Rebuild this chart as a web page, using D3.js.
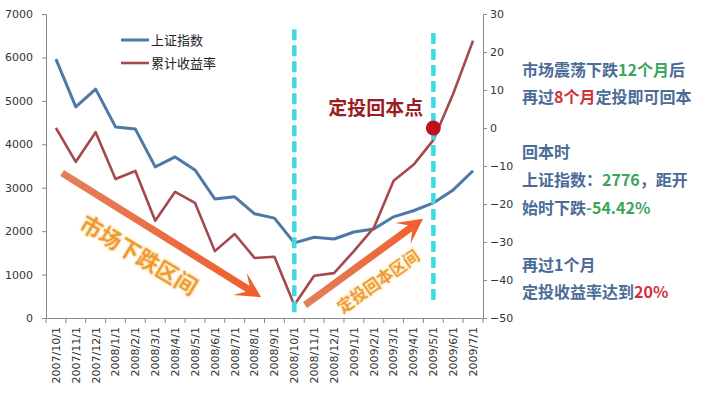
<!DOCTYPE html>
<html>
<head>
<meta charset="utf-8">
<script src="https://cdn.jsdelivr.net/npm/d3@7"></script>
<style>
  html, body { margin: 0; padding: 0; background: #fff; }
  svg { display: block; }
</style>
</head>
<body>
<div id="chart"></div>
<script>
// months on the x axis
const months = ["2007/10/1","2007/11/1","2007/12/1","2008/1/1","2008/2/1","2008/3/1","2008/4/1",
  "2008/5/1","2008/6/1","2008/7/1","2008/8/1","2008/9/1","2008/10/1","2008/11/1","2008/12/1",
  "2009/1/1","2009/2/1","2009/3/1","2009/4/1","2009/5/1","2009/6/1","2009/7/1"];

// 上证指数 (left axis)
const shIndex = [5960, 4860, 5270, 4400, 4350, 3480, 3710, 3410, 2740, 2790, 2400,
  2300, 1730, 1860, 1820, 1980, 2050, 2330, 2470, 2650, 2950, 3390];

// 累计收益率 % (right axis)
const cumReturn = [0, -8.9, -1.1, -13.4, -11.3, -24.4, -16.8, -19.7, -32.4, -27.9, -34.2,
  -33.9, -46.6, -38.9, -38.2, -32.4, -26.3, -13.9, -9.7, -3.2, 9, 23];

const leftTicks = [0, 1000, 2000, 3000, 4000, 5000, 6000, 7000];
const rightTicks = [-50, -40, -30, -20, -10, 0, 10, 20, 30];

// dashed markers: month, value range on right axis
const dashMarks = [
  {month: "2008/10/1", from: -48.5, to: 26},
  {month: "2009/5/1", from: -46.5, to: 25}
];
const breakEven = {month: "2009/5/1", value: 0};

const W = 706, H = 394;
const plotL = 46, plotR = 483, plotT = 14, plotB = 318;

const svg = d3.select("#chart").append("svg")
  .attr("width", W).attr("height", H);

const x = d3.scaleBand().domain(months).range([plotL, plotR]);
const xi = d3.scaleLinear().domain([-0.5, months.length - 0.5]).range([plotL, plotR]);
const yL = d3.scaleLinear().domain([0, 7000]).range([plotB, plotT]);
const yR = d3.scaleLinear().domain([-50, 30]).range([plotB, plotT]);
const cx = m => x(m) + x.bandwidth() / 2;

const axisColor = "#8a8a8a";
const numFont = "DejaVu Sans, Verdana, sans-serif";
const cjk = "Noto Sans CJK SC, sans-serif";

// axes
const gL = svg.append("g").attr("transform", `translate(${plotL},0)`)
  .call(d3.axisLeft(yL).tickValues(leftTicks).tickSize(4).tickSizeOuter(4).tickFormat(d3.format("d")));
const gR = svg.append("g").attr("transform", `translate(${plotR},0)`)
  .call(d3.axisRight(yR).tickValues(rightTicks).tickSize(4).tickSizeOuter(4));
const gB = svg.append("g").attr("transform", `translate(0,${plotB})`)
  .call(d3.axisBottom(x).tickSize(5).tickSizeOuter(0));

// ticks at band boundaries on the category axis
gB.selectAll(".tick line").attr("transform", `translate(${-x.bandwidth() / 2},0)`);
gB.append("line").attr("x1", plotR).attr("x2", plotR).attr("y1", 0).attr("y2", 5);
gB.selectAll(".tick text")
  .attr("transform", "rotate(-90)")
  .attr("x", -9).attr("y", 0).attr("dy", "0.35em")
  .style("text-anchor", "end");

[gL, gR, gB].forEach(g => {
  g.selectAll("path, line").attr("stroke", axisColor);
  g.selectAll("text").attr("fill", "#333").style("font-family", numFont).style("font-size", "11px");
});
gL.selectAll(".tick text").attr("x", -13);
gR.selectAll(".tick text").attr("x", 7);

// series lines
const lineL = d3.line().x((d, i) => cx(months[i])).y(d => yL(d));
const lineR = d3.line().x((d, i) => cx(months[i])).y(d => yR(d));

svg.append("path").datum(shIndex).attr("d", lineL)
  .attr("fill", "none").attr("stroke", "#4d79a9").attr("stroke-width", 3)
  .attr("stroke-linejoin", "round");
svg.append("path").datum(cumReturn).attr("d", lineR)
  .attr("fill", "none").attr("stroke", "#a6494f").attr("stroke-width", 2.6)
  .attr("stroke-linejoin", "round");

// cyan dashed lines
svg.selectAll(".dash").data(dashMarks).enter().append("line")
  .attr("x1", d => cx(d.month)).attr("x2", d => cx(d.month))
  .attr("y1", d => yR(d.to)).attr("y2", d => yR(d.from))
  .attr("stroke", "#3fd9e3").attr("stroke-width", 4.5)
  .attr("stroke-dasharray", "11,5");

// break-even dot
svg.append("circle")
  .attr("cx", cx(breakEven.month)).attr("cy", yR(breakEven.value)).attr("r", 7.5)
  .attr("fill", "#c0121c");

svg.append("text")
  .attr("x", xi(16.1)).attr("y", yR(5.3)).attr("dy", "0.35em")
  .attr("text-anchor", "middle")
  .style("font-family", cjk).style("font-size", "19px").style("font-weight", "bold")
  .attr("fill", "#9c1c22")
  .text("定投回本点");

// legend
const legend = [
  {name: "上证指数", color: "#4d79a9", w: 3},
  {name: "累计收益率", color: "#a6494f", w: 2.6}
];
const lg = svg.append("g");
legend.forEach((d, i) => {
  const ly = 40 + i * 23;
  lg.append("line").attr("x1", 121).attr("x2", 149).attr("y1", ly).attr("y2", ly)
    .attr("stroke", d.color).attr("stroke-width", d.w);
  lg.append("text").attr("x", 151).attr("y", ly).attr("dy", "0.35em")
    .style("font-family", cjk).style("font-size", "13px").attr("fill", "#222")
    .text(d.name);
});

// arrows
const defs = svg.append("defs");
const glow = defs.append("filter").attr("id", "glow").attr("x", "-20%").attr("y", "-20%")
  .attr("width", "140%").attr("height", "140%");
glow.append("feDropShadow").attr("dx", 0).attr("dy", 0).attr("stdDeviation", 1.8)
  .attr("flood-color", "#f9dc84").attr("flood-opacity", 1);

function arrow(x1, y1, x2, y2, id) {
  const dx = x2 - x1, dy = y2 - y1, len = Math.hypot(dx, dy);
  const ux = dx / len, uy = dy / len, nx = -uy, ny = ux;
  const hl = 25, hw = 13, notch = 16, sw = 3.6;
  const bx = x2 - ux * notch, by = y2 - uy * notch;
  const hx = x2 - ux * hl, hy = y2 - uy * hl;
  const pts = [
    [x1 + nx * sw, y1 + ny * sw],
    [bx + nx * sw, by + ny * sw],
    [hx + nx * hw, hy + ny * hw],
    [x2, y2],
    [hx - nx * hw, hy - ny * hw],
    [bx - nx * sw, by - ny * sw],
    [x1 - nx * sw, y1 - ny * sw]
  ];
  const grad = defs.append("linearGradient").attr("id", id)
    .attr("gradientUnits", "userSpaceOnUse")
    .attr("x1", x1).attr("y1", y1).attr("x2", x2).attr("y2", y2);
  grad.append("stop").attr("offset", 0).attr("stop-color", "#e2805c");
  grad.append("stop").attr("offset", 1).attr("stop-color", "#f25d2a");
  svg.append("path").attr("d", d3.line()(pts) + "Z").attr("fill", `url(#${id})`);
}
arrow(xi(0.31), yL(3340), xi(10.33), yL(480), "g1");
arrow(xi(12.54), yR(-46.6), xi(18.48), yR(-23.9), "g2");

function slantText(t, px, py, angle, size) {
  svg.append("text")
    .attr("transform", `translate(${px},${py}) rotate(${angle})`)
    .attr("text-anchor", "middle").attr("dy", "0.35em")
    .style("font-family", cjk).style("font-size", size + "px").style("font-weight", "bold")
    .attr("fill", "#ef962e").attr("filter", "url(#glow)")
    .text(t);
}
slantText("市场下跌区间", xi(4.18), yL(1450), 31, 22);
slantText("定投回本区间", xi(16.22), yR(-40.3), -35, 16);

// right side notes
const blue = "#4b6c98", green = "#3ba55c", red = "#d2303c";
const notes = [
  {y: 70, parts: [["市场震荡下跌", blue], ["12个月", green], ["后", blue]]},
  {y: 97, parts: [["再过", blue], ["8个月", red], ["定投即可回本", blue]]},
  {y: 152, parts: [["回本时", blue]]},
  {y: 180, parts: [["上证指数：", blue], ["2776", green], ["，距开", blue]]},
  {y: 208, parts: [["始时下跌", blue], ["-54.42%", green]]},
  {y: 265, parts: [["再过1个月", blue]]},
  {y: 292, parts: [["定投收益率达到", blue], ["20%", red]]}
];
notes.forEach(n => {
  const t = svg.append("text").attr("x", 522).attr("y", n.y).attr("dy", "0.35em")
    .style("font-family", cjk).style("font-size", "16px").style("font-weight", "bold");
  n.parts.forEach(p => t.append("tspan").attr("fill", p[1]).text(p[0]));
});
</script>
</body>
</html>
